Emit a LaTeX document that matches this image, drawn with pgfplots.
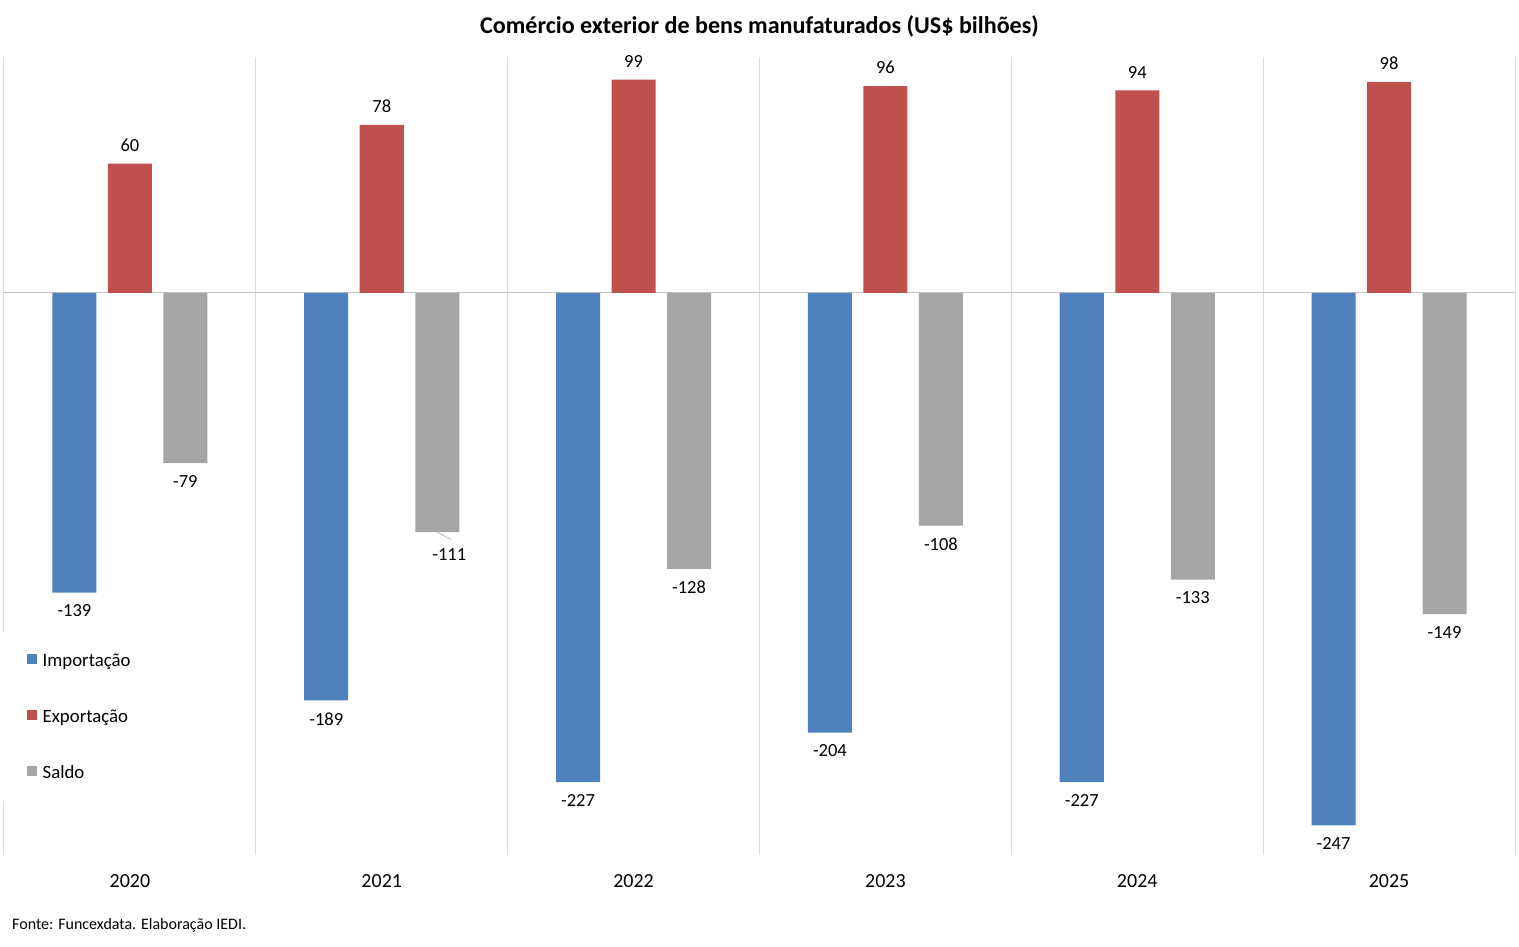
\documentclass[border=0pt]{standalone}
\usepackage{fontspec}
\setmainfont{Carlito}
\usepackage{pgfplots}
\pgfplotsset{compat=1.18}
\definecolor{imp}{HTML}{4F81BD}
\definecolor{exp}{HTML}{C0504D}
\definecolor{sal}{HTML}{A5A5A5}
\definecolor{gridc}{HTML}{D9D9D9}
\definecolor{zeroc}{HTML}{C4C4C4}
\pgfplotsset{sqlegend/.style={legend image code/.code={\fill[##1] (0pt,-3.8pt) rectangle (10pt,6.2pt);}}}
\begin{document}
\begin{tikzpicture}[x=1pt,y=1pt]
\useasboundingbox (0,0) rectangle (1519,947);
\begin{axis}[
 at={(4pt,92pt)}, anchor=south west,
 scale only axis, width=1511pt, height=798pt,
 xmin=-0.5, xmax=5.5, ymin=-260.8, ymax=109.5,
 ybar, bar width=44pt,
 axis line style={draw=none},
 xtick={0,...,5}, xticklabels={2020,2021,2022,2023,2024,2025},
 minor xtick={-0.5,0.5,...,5.5},
 xminorgrids=true, minor grid style={gridc, line width=1pt},
 major tick length=0pt, minor tick length=0pt,
 xticklabel style={font=\fontsize{20}{24}\selectfont, anchor=center, yshift=-26pt},
 ytick=\empty,
 extra y ticks={0}, extra y tick labels={},
 extra y tick style={grid=major, major grid style={zeroc, line width=1pt}},
 nodes near coords, nodes near coords align=vertical,
 every node near coord/.append style={font=\fontsize{18.5}{22}\selectfont, inner xsep=0pt, inner ysep=12pt, text=black},
 /pgf/number format/assume math mode=true,
 legend style={at={(axis description cs:-0.002,0.2795)}, anchor=north west, fill=white, draw=none,
   inner xsep=26pt, inner ysep=20pt, row sep=39pt, font=\fontsize{18.8}{22}\selectfont,
   nodes={inner ysep=0pt, inner xsep=5.5pt, text height=14pt, text depth=3pt}},
 legend cell align=left,
]
\addplot[fill=imp, draw=none, bar shift=-55.5pt, sqlegend] coordinates {(0,-139) (1,-189) (2,-227) (3,-204) (4,-227) (5,-247)};
\addplot[fill=exp, draw=none, bar shift=0pt, sqlegend] coordinates {(0,60) (1,78) (2,99) (3,96) (4,94) (5,98)};
\addplot[fill=sal, draw=none, bar shift=55.5pt, sqlegend, coordinate style/.condition={x==1}{xshift=12pt,yshift=-4pt}] coordinates {(0,-79) (1,-111) (2,-128) (3,-108) (4,-133) (5,-149)};
\legend{Importação, Exportação, Saldo}
\draw[gray!50, line width=0.8pt] (axis cs:1,-111) ++(55.5pt,0pt) -- ++(14pt,-7.4pt);
\end{axis}
\node[font=\bfseries\fontsize{24.1}{29}\selectfont, inner sep=0pt] at (759.5,921) {Comércio exterior de bens manufaturados (US\$ bilhões)};
\node[font=\fontsize{16}{19}\selectfont, anchor=base west, inner sep=0pt] at (12,17) {Fonte: Funcexdata. Elaboração IEDI.};
\end{tikzpicture}
\end{document}
